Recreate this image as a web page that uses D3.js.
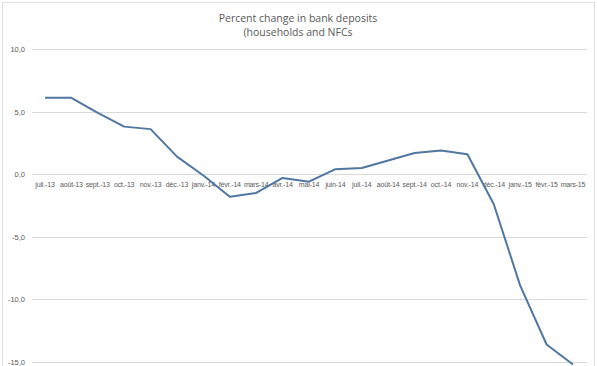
<!DOCTYPE html>
<html><head><meta charset="utf-8">
<script src="https://cdn.jsdelivr.net/npm/d3@7"></script>
<style>body{margin:0;background:#fff}svg{display:block}</style>
</head><body>
<svg id="c" width="597" height="366"></svg>
<script>
const categories = ["juil.-13","août-13","sept.-13","oct.-13","nov.-13","déc.-13","janv.-14","févr.-14","mars-14","avr.-14","mai-14","juin-14","juil.-14","août-14","sept.-14","oct.-14","nov.-14","déc.-14","janv.-15","févr.-15","mars-15"];
const values = [6.1,6.1,4.9,3.8,3.6,1.4,-0.1,-1.8,-1.5,-0.3,-0.6,0.4,0.5,1.1,1.7,1.9,1.6,-2.4,-8.9,-13.6,-15.2];
const yTicks = [10,5,0,-5,-10,-15];
const titleLines = ["Percent change in bank deposits","(households and NFCs"];

const svg = d3.select("#c");
const W = 597, H = 366;
svg.append("rect").attr("x",2.5).attr("y",2.5).attr("width",592).attr("height",H+5).attr("fill","#fff").attr("stroke","#e0e0e0");

const x = d3.scalePoint().domain(categories).range([45,573]);
const y = d3.scaleLinear().domain([-15,10]).range([362,49]);
const fmt = v => d3.format(".1f")(v).replace(".",",").replace("−","-");

const grid = svg.append("g");
yTicks.forEach(t=>{
  grid.append("line").attr("x1",32).attr("x2",587).attr("y1",Math.round(y(t))+0.5).attr("y2",Math.round(y(t))+0.5)
    .attr("stroke","#d9d9d9").attr("stroke-width",1);
  svg.append("text").attr("x",25).attr("y",y(t)+3).attr("text-anchor","end")
    .attr("font-family","Liberation Sans, Arial, sans-serif").attr("font-size",7.5).attr("fill","#595959").text(fmt(t));
});

categories.forEach(c=>{
  svg.append("text").attr("x",x(c)).attr("y",187).attr("text-anchor","middle")
    .attr("font-family","Liberation Sans, Arial, sans-serif").attr("font-size",7).attr("letter-spacing",-0.15).attr("fill","#595959").text(c);
});

const line = d3.line().x((d,i)=>x(categories[i])).y(d=>y(d));
svg.append("path").datum(values).attr("d",line).attr("fill","none").attr("stroke","#4f77a1").attr("stroke-width",2).attr("stroke-linejoin","round");

titleLines.forEach((t,i)=>{
  svg.append("text").attr("x",298).attr("y",22+i*14).attr("text-anchor","middle")
    .attr("font-family","Open Sans, Liberation Sans, sans-serif").attr("font-size",10.5).attr("fill","#595959").text(t);
});
</script>
</body></html>
